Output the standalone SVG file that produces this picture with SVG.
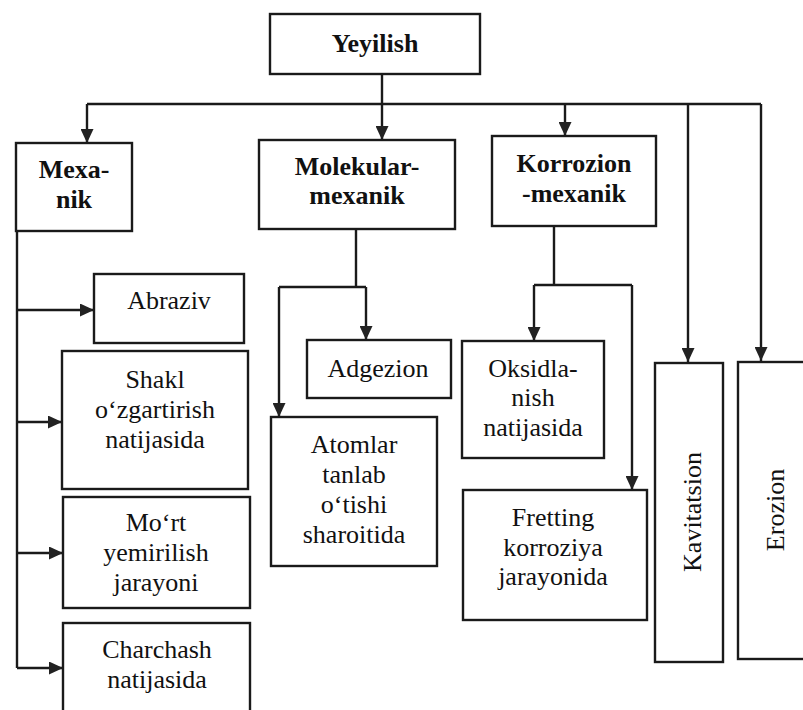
<svg xmlns="http://www.w3.org/2000/svg" width="803" height="710" viewBox="0 0 803 710">
<defs>
<marker id="ah" viewBox="0 0 14 13" refX="14" refY="6.5" markerWidth="14" markerHeight="13" markerUnits="userSpaceOnUse" orient="auto">
<path d="M0 0 L14 6.5 L0 13 Z" fill="#222"/>
</marker>
<style>
.box{fill:#fff;stroke:#1a1a1a;stroke-width:2.4}
.c{fill:none;stroke:#1a1a1a;stroke-width:2.4}
.b{font-family:"Liberation Serif","Times New Roman",serif;font-weight:bold;font-size:26px;fill:#111;text-anchor:middle}
.t{font-family:"Liberation Serif","Times New Roman",serif;font-size:26px;fill:#111;text-anchor:middle}
</style>
</defs>
<rect width="803" height="710" fill="#fff"/>
<g id="connectors">
<path class="c" d="M382 74 V104 M87 104 H761"/>
<path class="c" d="M87 104 V143" marker-end="url(#ah)"/>
<path class="c" d="M382 104 V140" marker-end="url(#ah)"/>
<path class="c" d="M565 104 V136" marker-end="url(#ah)"/>
<path class="c" d="M688 104 V362" marker-end="url(#ah)"/>
<path class="c" d="M761 104 V361" marker-end="url(#ah)"/>
<path class="c" d="M17 231 V668"/>
<path class="c" d="M17 310 H94" marker-end="url(#ah)"/>
<path class="c" d="M17 422 H62" marker-end="url(#ah)"/>
<path class="c" d="M17 553 H63" marker-end="url(#ah)"/>
<path class="c" d="M17 668 H63" marker-end="url(#ah)"/>
<path class="c" d="M356 229 V287 M279 287 H366"/>
<path class="c" d="M366 287 V340" marker-end="url(#ah)"/>
<path class="c" d="M279 287 V417" marker-end="url(#ah)"/>
<path class="c" d="M554 226 V285 M534 285 H632"/>
<path class="c" d="M534 285 V341" marker-end="url(#ah)"/>
<path class="c" d="M632 285 V490" marker-end="url(#ah)"/>
</g>
<g id="yeyilish"><rect class="box" x="270" y="14" width="210" height="60"/><text class="b" x="375" y="52">Yeyilish</text></g>
<g id="mexanik"><rect class="box" x="16" y="143" width="116" height="88"/><text class="b" x="74" y="178">Mexa-</text><text class="b" x="74" y="208">nik</text></g>
<g id="molekular"><rect class="box" x="259" y="140" width="196" height="89"/><text class="b" x="357" y="175">Molekular-</text><text class="b" x="357" y="204">mexanik</text></g>
<g id="korrozion"><rect class="box" x="492" y="136" width="164" height="90"/><text class="b" x="574" y="172">Korrozion</text><text class="b" x="574" y="202">-mexanik</text></g>
<g id="abraziv"><rect class="box" x="94" y="274" width="150" height="69"/><text class="t" x="169" y="309">Abraziv</text></g>
<g id="shakl"><rect class="box" x="62" y="351" width="186" height="138"/><text class="t" x="155" y="388">Shakl</text><text class="t" x="155" y="418">o‘zgartirish</text><text class="t" x="155" y="448">natijasida</text></g>
<g id="mort"><rect class="box" x="63" y="497" width="187" height="111"/><text class="t" x="156" y="531">Mo‘rt</text><text class="t" x="156" y="561">yemirilish</text><text class="t" x="156" y="591">jarayoni</text></g>
<g id="charchash"><rect class="box" x="63" y="623" width="187" height="90"/><text class="t" x="157" y="658">Charchash</text><text class="t" x="157" y="688">natijasida</text></g>
<g id="adgezion"><rect class="box" x="307" y="340" width="144" height="58"/><text class="t" x="378" y="377">Adgezion</text></g>
<g id="atomlar"><rect class="box" x="271" y="417" width="166" height="149"/><text class="t" x="354" y="453">Atomlar</text><text class="t" x="354" y="483">tanlab</text><text class="t" x="354" y="513">o‘tishi</text><text class="t" x="354" y="543">sharoitida</text></g>
<g id="oksidlanish"><rect class="box" x="462" y="341" width="142" height="117"/><text class="t" x="533" y="377">Oksidla-</text><text class="t" x="533" y="406">nish</text><text class="t" x="533" y="436">natijasida</text></g>
<g id="fretting"><rect class="box" x="463" y="490" width="184" height="130"/><text class="t" x="553" y="526">Fretting</text><text class="t" x="553" y="556">korroziya</text><text class="t" x="553" y="585">jarayonida</text></g>
<g id="kavitatsion"><rect class="box" x="655" y="363" width="68" height="299"/><text class="t" transform="translate(701 512) rotate(-90)" x="0" y="0">Kavitatsion</text></g>
<g id="erozion"><rect class="box" x="738" y="362" width="70" height="297"/><text class="t" transform="translate(784 510) rotate(-90)" x="0" y="0">Erozion</text></g>
</svg>
